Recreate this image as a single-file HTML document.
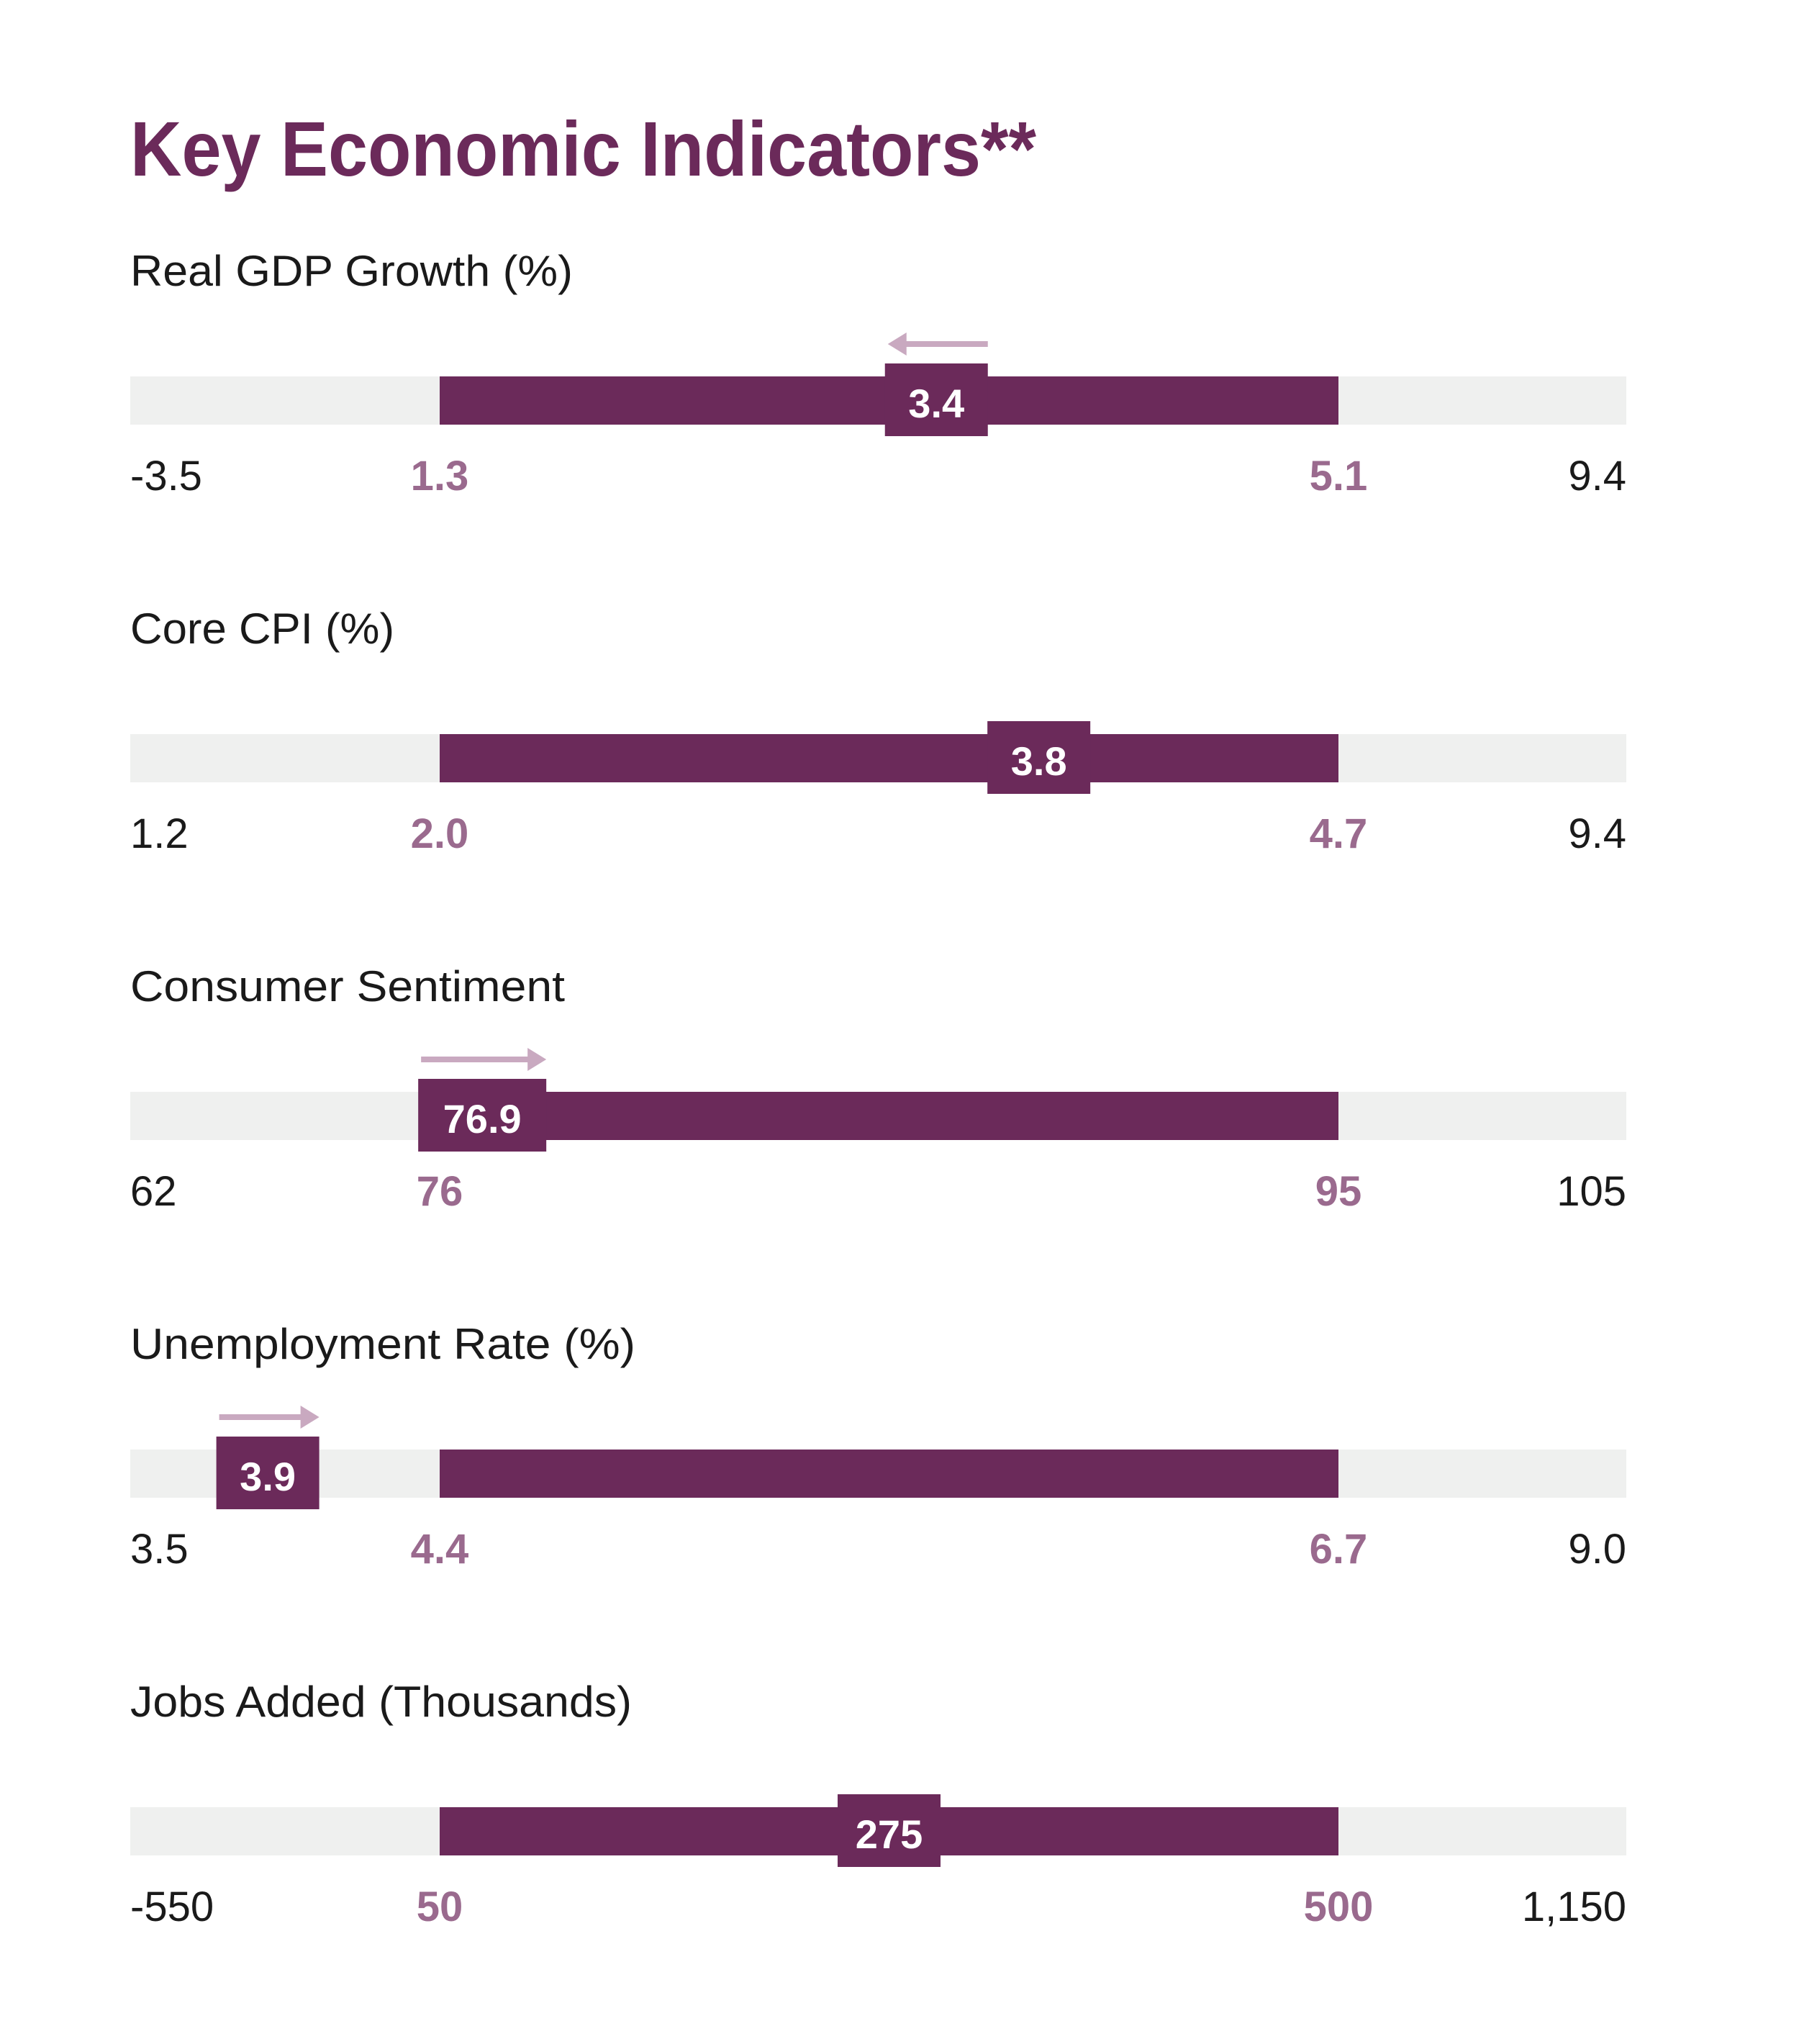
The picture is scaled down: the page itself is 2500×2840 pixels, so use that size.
<!DOCTYPE html>
<html><head><meta charset="utf-8">
<style>
html,body{margin:0;padding:0;background:#fff;}
svg{display:block;}
</style></head>
<body>
<svg id="chart" width="2500" height="2840" viewBox="0 0 2500 2840" xmlns="http://www.w3.org/2000/svg">
<text x="181" y="244" font-family="'Liberation Sans Narrow','Liberation Sans',sans-serif" font-weight="bold" font-size="108" fill="#6b2a5a" textLength="1259" lengthAdjust="spacingAndGlyphs">Key Economic Indicators**</text>
</svg>
<script>
const labels = ["Real GDP Growth (%)", "Core CPI (%)", "Consumer Sentiment", "Unemployment Rate (%)", "Jobs Added (Thousands)"];
const mins = [-3.5, 1.2, 62, 3.5, -550];
const maxs = [9.4, 9.4, 105, 9.0, 1150];
const lows = [1.3, 2.0, 76, 4.4, 50];
const highs = [5.1, 4.7, 95, 6.7, 500];
const values = [3.4, 3.8, 76.9, 3.9, 275];
const valueLabels = ["3.4", "3.8", "76.9", "3.9", "275"];
const minLabels = ["-3.5", "1.2", "62", "3.5", "-550"];
const maxLabels = ["9.4", "9.4", "105", "9.0", "1,150"];
const lowLabels = ["1.3", "2.0", "76", "4.4", "50"];
const highLabels = ["5.1", "4.7", "95", "6.7", "500"];
const trends = ["down", "none", "up", "up", "none"];

const NS = "http://www.w3.org/2000/svg";
const svg = document.getElementById("chart");
const X0 = 181, X1 = 2260, XL = 611, XH = 1860;
const labelWidths = [615, 367, 604, 702, 697];

function xScale(i, v) {
  if (v < lows[i]) return X0 + (v - mins[i]) / (lows[i] - mins[i]) * (XL - X0);
  if (v > highs[i]) return XH + (v - highs[i]) / (maxs[i] - highs[i]) * (X1 - XH);
  return XL + (v - lows[i]) / (highs[i] - lows[i]) * (XH - XL);
}
function mk(tag, attrs) {
  const e = document.createElementNS(NS, tag);
  for (const k in attrs) e.setAttribute(k, attrs[k]);
  svg.appendChild(e);
  return e;
}
function txt(s, x, y, size, weight, fill, anchor) {
  const t = mk("text", {x: x, y: y, "font-family": "'Liberation Sans',sans-serif", "font-size": size, "font-weight": weight, fill: fill, "text-anchor": anchor});
  t.textContent = s;
  return t;
}

labels.forEach((lab, i) => {
  const base = 397 + i * 497;
  const trackTop = base + 126;
  const l = txt(lab, X0, base, 60, "normal", "#1a1a1a", "start");
  l.setAttribute("textLength", labelWidths[i]);
  l.setAttribute("lengthAdjust", "spacingAndGlyphs");
  
  

  const tr = mk("rect", {x: X0, y: trackTop, width: X1 - X0, height: 67, fill: "#eff0ef"});
  
  

  const xl = xScale(i, lows[i]), xh = xScale(i, highs[i]);
  const rb = mk("rect", {x: xl, y: trackTop, width: xh - xl, height: 67, fill: "#6b2a5a"});
  
  

  const cx = xScale(i, values[i]);
  const w = valueLabels[i].length * 35 + 38;
  const bx = mk("rect", {x: cx - w / 2, y: trackTop - 18, width: w, height: 101, fill: "#6b2a5a"});
  
  
  const vt = txt(valueLabels[i], cx, trackTop + 57, 56, "bold", "#ffffff", "middle");
  
  

  if (trends[i] !== "none") {
    const ay = trackTop - 45;
    const a = cx - w / 2 + 4, b = cx + w / 2;
    let d;
    if (trends[i] === "up") {
      d = `M${a} ${ay-4} L${b-26} ${ay-4} L${b-26} ${ay-16} L${b} ${ay} L${b-26} ${ay+16} L${b-26} ${ay+4} L${a} ${ay+4} Z`;
    } else {
      d = `M${b} ${ay-4} L${a+26} ${ay-4} L${a+26} ${ay-16} L${a} ${ay} L${a+26} ${ay+16} L${a+26} ${ay+4} L${b} ${ay+4} Z`;
    }
    const ar = mk("path", {d: d, fill: "#c9a9c0"});
    
    
  }

  const ty = base + 284;
  const t1 = txt(minLabels[i], X0, ty, 58, "normal", "#1a1a1a", "start");
  
  
  const t2 = txt(maxLabels[i], X1, ty, 58, "normal", "#1a1a1a", "end");
  
  
  const t3 = txt(lowLabels[i], xl, ty, 58, "bold", "#9a6a8e", "middle");
  
  
  const t4 = txt(highLabels[i], xh, ty, 58, "bold", "#9a6a8e", "middle");
  
  
});
</script>
</body></html>
